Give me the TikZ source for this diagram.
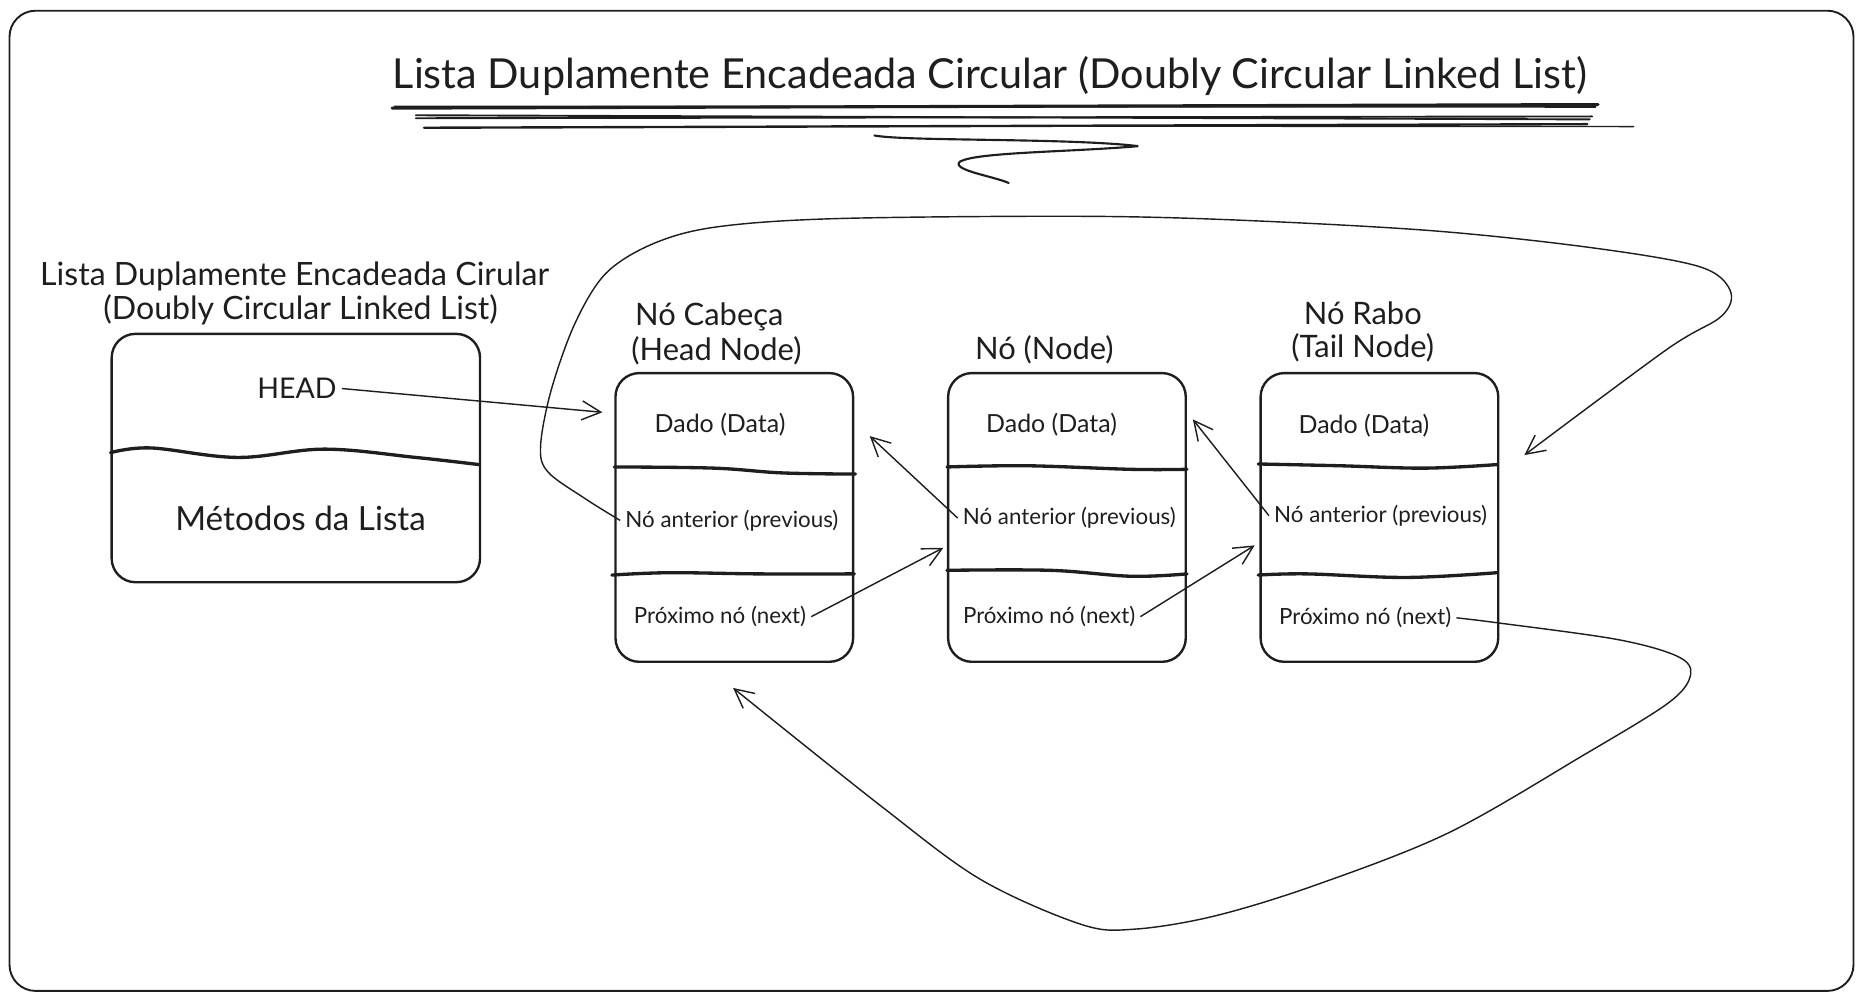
\documentclass[tikz,border=0pt]{standalone}
\usepackage{fontspec}
\setmainfont{Lato}
\usetikzlibrary{arrows.meta}
\definecolor{ink}{HTML}{1E1E1E}
\begin{document}
\begin{tikzpicture}[x=0.5pt,y=-0.5pt,
  every node/.style={text=ink},
  box/.style={draw=ink, line width=1pt, rounded corners=10pt, inner sep=0pt, anchor=north west},
  divider/.style={draw=ink, line width=1.4pt, line cap=round},
  txt/.style={font=\fontsize{9.4}{11}\selectfont, inner sep=2pt},
  dtxt/.style={font=\fontsize{10.5}{12}\selectfont, inner sep=2pt},
  lbl/.style={font=\fontsize{13}{15}\selectfont, inner sep=1pt},
  arr/.style={draw=ink, line width=0.6pt, -{Straight Barb[length=8pt,width=8pt]}},
  uline/.style={draw=ink, line cap=round}
]
\useasboundingbox (0,0) rectangle (1568,842.5);
% outer frame
\draw[draw=ink, line width=0.8pt, rounded corners=11pt] (8,9) rectangle (1560,834);

% title
\node[font=\fontsize{17.4}{20}\selectfont, inner sep=1pt] (title) at (833,64) {Lista Duplamente Encadeada Circular (Doubly Circular Linked List)};
\draw[uline, line width=1.3pt] (330,91) -- (1345,88);
\draw[uline, line width=0.7pt] (332,89.5) -- (1343,90);
\draw[uline, line width=0.8pt] (350,97) -- (1338,100.5);
\draw[uline, line width=0.8pt] (350,99.5) -- (1340,98);
\draw[uline, line width=1pt] (357,107.5) -- (1336,104.5);
\draw[uline, line width=0.6pt] (700,106) -- (1375,106.5);
\draw[uline, line width=0.9pt] (736,114) .. controls (760,119) and (900,116) .. (958,123)
   .. controls (900,128) and (822,128) .. (808,136) .. controls (800,143) and (835,148) .. (849,154);

% list box
\node[font=\fontsize{13.5}{15}\selectfont, inner sep=1pt] (ll1) at (248,233) {Lista Duplamente Encadeada Cirular};
\node[font=\fontsize{13.5}{15}\selectfont, inner sep=1pt] (ll2) at (253,261) {(Doubly Circular Linked List)};
\node[box, minimum width=155pt, minimum height=104.5pt] (lb) at (93,280) {};
\draw[divider] plot[smooth, tension=0.6] coordinates {(93,381) (127,377) (200,385) (273,378) (350,385) (403,391)};
\node[font=\fontsize{12}{14}\selectfont, inner sep=2pt] (head) at (250,327) {HEAD};
\node[font=\fontsize{14}{16}\selectfont] (met) at (253,436) {Métodos da Lista};

% node labels
\node[lbl] (hl1) at (597,267) {Nó Cabeça};
\node[lbl] (hl2) at (603,295) {(Head Node)};
\node[lbl] (nl1) at (879,294) {Nó (Node)};
\node[lbl] (tl1) at (1147,264) {Nó Rabo};
\node[lbl] (tl2) at (1147,293) {(Tail Node)};

% node boxes
\node[box, minimum width=100pt, minimum height=121.5pt] (hn) at (517,313) {};
\node[box, minimum width=100pt, minimum height=121.5pt] (nn) at (797,313) {};
\node[box, minimum width=100pt, minimum height=121.5pt] (tn) at (1060,313) {};

% dividers
\draw[divider] plot[smooth, tension=0.6] coordinates {(517,393) (601,394) (658,398) (720,399)};
\draw[divider] plot[smooth, tension=0.6] coordinates {(515,484) (563,482) (639,483) (719,483)};
\draw[divider] plot[smooth, tension=0.6] coordinates {(797,393) (865,392) (952,395) (999,395)};
\draw[divider] plot[smooth, tension=0.6] coordinates {(797,480) (884,480) (952,485) (999,483)};
\draw[divider] plot[smooth, tension=0.6] coordinates {(1059,390.5) (1128,392) (1199,394) (1260,391)};
\draw[divider] plot[smooth, tension=0.6] coordinates {(1059,484) (1100,483) (1184,486) (1260,482)};

% node texts
\node[dtxt] (hd) at (606,357) {Dado (Data)};
\node[txt] (hp) at (616,438) {Nó anterior (previous)};
\node[txt] (hx) at (606,519) {Próximo nó (next)};
\node[dtxt] (nd) at (885,357) {Dado (Data)};
\node[txt] (np) at (900,436) {Nó anterior (previous)};
\node[txt] (nx) at (883,519) {Próximo nó (next)};
\node[dtxt] (td) at (1148,358) {Dado (Data)};
\node[txt] (tp) at (1162,434) {Nó anterior (previous)};
\node[txt] (tx) at (1149,520) {Próximo nó (next)};

% arrow end points
\coordinate (hin) at (507,347);
\coordinate (hne) at (732,367);
\coordinate (nne) at (1004,353);
\coordinate (nnw) at (794,461);
\coordinate (tnw) at (1056,459);
\coordinate (tne) at (1283,383);
\coordinate (hns) at (617,579);

% arrows
\draw[arr] (head.east) -- (hin);
\draw[arr] (np.west) -- (hne);
\draw[arr] (tp.west) -- (nne);
\draw[arr] (hx.east) -- (nnw);
\draw[arr] (nx.east) -- (tnw);
\draw[arr] plot[smooth, tension=0.55] coordinates {(hp.west) (493,420) (461,397) (455,375) (464,328) (484,272) (510,230) (550,205) (603,191) (703,184) (903,182) (1036,185) (1203,194) (1336,208) (1429,224) (1456,244) (1449,266) (1403,294) (tne)};
\draw[arr] plot[smooth, tension=0.55] coordinates {(tx.east) (1259,524) (1360,538) (1411,552) (1423,567) (1405,591) (1332,636) (1219,701) (1107,745) (1022,771) (955,782) (910,778) (825,740) (741,678) (hns)};
\end{tikzpicture}
\end{document}
